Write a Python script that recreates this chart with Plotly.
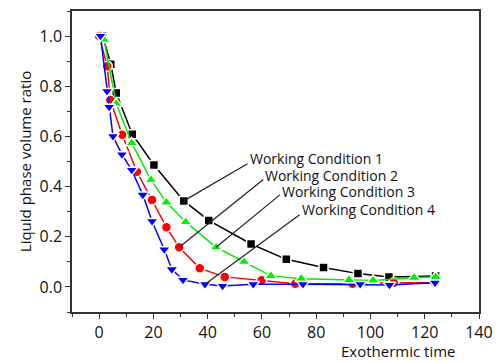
import plotly.graph_objects as go

# Working Condition 1 (black squares)
x1 = [1.3, 4.3, 6.3, 12.2, 20.2, 31.2, 40.4, 56.0, 69.0, 82.7, 95.4, 106.8, 124.0]
y1 = [1.0, 0.888, 0.773, 0.609, 0.486, 0.343, 0.265, 0.171, 0.110, 0.077, 0.053, 0.040, 0.044]
# Working Condition 2 (red circles)
x2 = [0.0, 3.0, 4.1, 8.5, 13.9, 19.5, 24.8, 29.5, 37.1, 46.3, 59.9, 72.3, 93.4, 108.6, 123.8]
y2 = [1.0, 0.88, 0.745, 0.607, 0.459, 0.347, 0.238, 0.158, 0.074, 0.040, 0.027, 0.013, 0.013, 0.017, 0.017]
# Working Condition 3 (green triangles)
x3 = [1.8, 6.3, 12.0, 19.1, 24.8, 31.9, 43.1, 53.4, 63.3, 74.5, 92.1, 101.0, 116.1, 124.0]
y3 = [0.985, 0.73, 0.574, 0.427, 0.337, 0.259, 0.158, 0.100, 0.044, 0.033, 0.028, 0.026, 0.037, 0.040]
# Working Condition 4 (blue down-triangles)
x4 = [0.5, 2.9, 3.7, 5.1, 8.4, 12.0, 16.1, 19.5, 24.0, 26.8, 30.9, 39.0, 45.5, 56.8, 75.1, 96.2, 107.0, 123.8]
y4 = [1.0, 0.78, 0.717, 0.601, 0.528, 0.466, 0.367, 0.262, 0.149, 0.070, 0.028, 0.011, 0.004, 0.011, 0.011, 0.011, 0.008, 0.017]

names = ["Working Condition 1", "Working Condition 2", "Working Condition 3", "Working Condition 4"]
# label anchor positions (data coords) and which point each leader line targets
label_x = [54.7, 60.5, 66.6, 73.9]
label_y = [0.491, 0.428, 0.367, 0.288]
text_y = [0.511, 0.444, 0.380, 0.310]
target_idx = [5, 7, 6, 11]

series = [(x1, y1), (x2, y2), (x3, y3), (x4, y4)]
colors = ["#000000", "#ff0000", "#00ee00", "#0000ff"]
symbols = ["square", "circle", "triangle-up", "triangle-down"]
sizes = [9, 10, 11, 11]

FONT = "Open Sans"
TXT = "#111"

fig = go.Figure()
for (xs, ys), c, s, sz, n in zip(series, colors, symbols, sizes, names):
    fig.add_trace(go.Scatter(
        x=xs, y=ys, mode="lines+markers", name=n,
        line=dict(color=c, width=1.5),
        marker=dict(symbol=s, size=sz, color=c, line=dict(width=1.5, color="white")),
    ))

for i, n in enumerate(names):
    xs, ys = series[i]
    k = target_idx[i]
    fig.add_shape(type="line", xref="x", yref="y",
                  x0=label_x[i], y0=label_y[i], x1=xs[k], y1=ys[k],
                  line=dict(color="#222", width=1.2))
    fig.add_annotation(x=label_x[i], y=text_y[i], xref="x", yref="y",
                       text=n, showarrow=False, xanchor="left", yanchor="middle",
                       font=dict(family=FONT, size=14, color=TXT))

tick_common = dict(
    showline=True, linecolor="#333", linewidth=1.5, mirror=True,
    ticks="outside", ticklen=5, tickwidth=1.2, tickcolor="#333",
    showgrid=False, zeroline=False,
    tickfont=dict(family=FONT, size=16, color=TXT),
)

fig.update_layout(
    width=502, height=363,
    margin=dict(l=72, r=19, t=9, b=51),
    plot_bgcolor="white", paper_bgcolor="white",
    showlegend=False,
    xaxis=dict(range=[-10, 140], tick0=0, dtick=20,
               minor=dict(ticks="outside", ticklen=3, tickwidth=1, tickcolor="#333", dtick=10, tick0=0),
               **tick_common),
    yaxis=dict(range=[-0.1, 1.1], tick0=0, dtick=0.2, tickformat=".1f",
               minor=dict(ticks="outside", ticklen=3, tickwidth=1, tickcolor="#333", dtick=0.1, tick0=0),
               title=dict(text="Liquid phase volume ratio", font=dict(family=FONT, size=15, color=TXT), standoff=4),
               **tick_common),
)

fig.add_annotation(x=1, y=-0.131, xref="paper", yref="paper", text="Exothermic time",
                   showarrow=False, xanchor="right", yanchor="middle", xshift=-21,
                   font=dict(family=FONT, size=15, color=TXT))

fig.write_html("out.html")
